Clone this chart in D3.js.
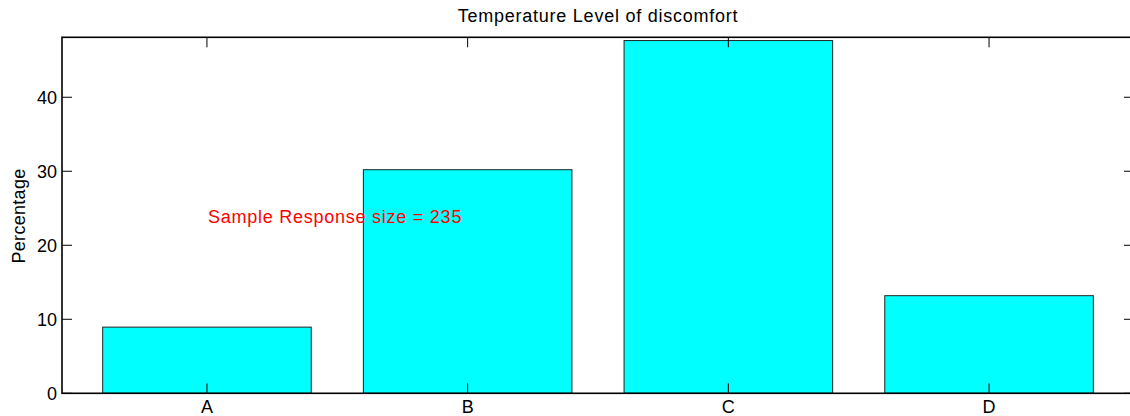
<!DOCTYPE html>
<html><head><meta charset="utf-8">
<script src="https://cdn.jsdelivr.net/npm/d3@7/dist/d3.min.js"></script>
<style>body{margin:0;background:#fff}svg{display:block}text{font-family:"Liberation Sans",Arial,sans-serif}</style>
</head><body>
<svg id="c" width="1130" height="416"></svg>
<script>
const categories = ["A","B","C","D"];
const percentages = [8.94, 30.21, 47.66, 13.19];
const yTicks = [0, 10, 20, 30, 40];
const titleText = "Temperature Level of discomfort";
const yLabelText = "Percentage";
const noteText = "Sample Response size = 235";

const svg = d3.select("#c");
const L = 62, R = 1134, T = 37.3, B = 393.3;
const x = d3.scaleLinear().domain([0.444, 4.556]).range([L, R]);
const y = d3.scaleLinear().domain([0, 48.1]).range([B, T]);
const fs = 18;

// bars
svg.selectAll("rect.bar").data(percentages).enter().append("rect")
  .attr("x", (d,i)=>x(i+1-0.4)).attr("width", (d,i)=>x(i+1.4)-x(i+0.6))
  .attr("y", d=>y(d)).attr("height", d=>B-y(d))
  .attr("fill","#00ffff").attr("stroke","#222").attr("stroke-width",1);

// axes
const g = svg.append("g");
const tl = 10;
g.selectAll("line.yt").data(yTicks).enter().append("line")
  .attr("x1",L).attr("x2",L+tl).attr("y1",d=>y(d)).attr("y2",d=>y(d)).attr("stroke","#000");
g.selectAll("line.yt2").data(yTicks).enter().append("line")
  .attr("x1",R).attr("x2",R-tl).attr("y1",d=>y(d)).attr("y2",d=>y(d)).attr("stroke","#000");
g.selectAll("line.xt").data(categories).enter().append("line")
  .attr("x1",(d,i)=>x(i+1)).attr("x2",(d,i)=>x(i+1)).attr("y1",B).attr("y2",B-tl).attr("stroke","#000");
g.selectAll("line.xt2").data(categories).enter().append("line")
  .attr("x1",(d,i)=>x(i+1)).attr("x2",(d,i)=>x(i+1)).attr("y1",T).attr("y2",T+tl).attr("stroke","#000");
g.append("rect").attr("x",L).attr("y",T).attr("width",R-L).attr("height",B-T)
  .attr("fill","none").attr("stroke","#000").attr("stroke-width",1.6);

g.selectAll("text.yl").data(yTicks).enter().append("text")
  .attr("x",L-5).attr("y",d=>y(d)+6.5).attr("text-anchor","end").attr("font-size",fs).text(d=>d);
g.selectAll("text.xl").data(categories).enter().append("text")
  .attr("x",(d,i)=>x(i+1)).attr("y",413).attr("text-anchor","middle").attr("font-size",fs).text(d=>d);

svg.append("text").attr("x",(L+R)/2).attr("y",22).attr("text-anchor","middle").attr("font-size",fs)
  .attr("letter-spacing","0.75px").text(titleText);
svg.append("text").attr("transform","translate(25,216) rotate(-90)").attr("text-anchor","middle").attr("font-size",fs)
  .attr("letter-spacing","0.3px").text(yLabelText);
svg.append("text").attr("x",208).attr("y",223).attr("fill","#ff0000").attr("font-size",fs)
  .attr("letter-spacing","0.75px").text(noteText);
</script>
</body></html>
